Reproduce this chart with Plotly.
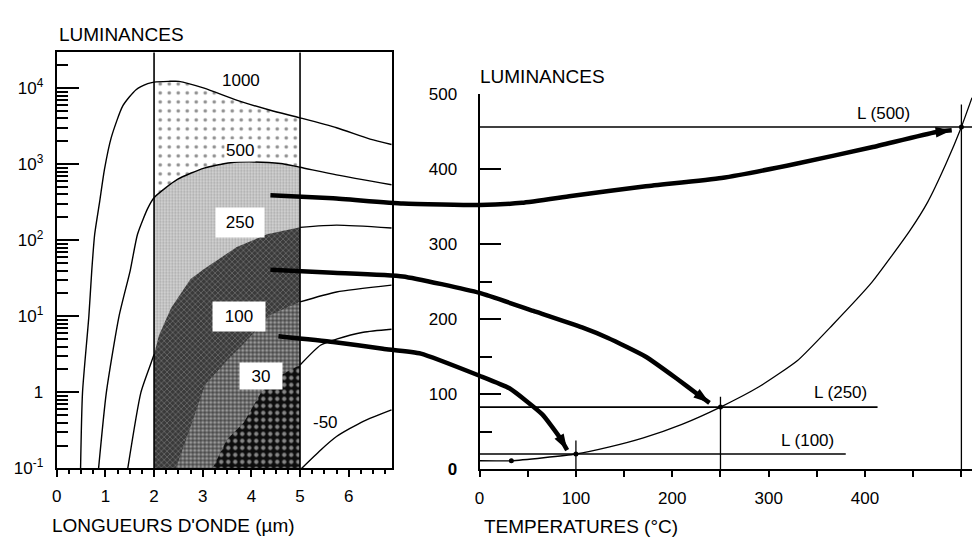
import plotly.graph_objects as go

W, H = 972, 546
FONT = "Liberation Sans, Arial, Helvetica, sans-serif"

# ---------------- Left panel : spectral luminance vs wavelength ----------------
wl_1000 = [0.49, 0.53, 0.66, 0.72, 0.78, 0.88, 0.98, 1.12, 1.36, 1.63, 1.87, 2.0, 2.3, 2.51,
           3.03, 3.71, 4.39, 5.0, 5.75, 6.44, 6.88]
lum_1000 = [0.1, 1, 10, 40, 120, 316, 851, 2239, 5888, 9550, 11480, 12020, 12300, 12300,
            10000, 6918, 5129, 4074, 3020, 2138, 1820]

wl_500 = [0.86, 1.02, 1.28, 1.51, 1.66, 1.87, 2.0, 2.48, 3.03, 3.57, 4.05, 4.6, 5.0, 5.75, 6.88]
lum_500 = [0.1, 1, 10, 40, 120, 263, 363, 631, 891, 1047, 1072, 1023, 912, 724, 537]

wl_250 = [1.46, 1.73, 1.94, 2.0, 2.1, 2.35, 2.75, 3.02, 3.7, 4.32, 5.0, 5.75, 6.88]
lum_250 = [0.1, 1, 2.45, 3.16, 5.6, 12.9, 30.9, 41.7, 81.3, 120, 148, 158, 145]

wl_100 = [2.45, 2.75, 3.05, 3.5, 3.84, 4.4, 5.0, 5.75, 6.88]
lum_100 = [0.1, 0.355, 1.26, 2.63, 4.37, 10.5, 15.5, 20.9, 25.7]

wl_30 = [3.2, 3.5, 3.84, 4.2, 4.52, 5.0, 5.42, 5.75, 6.3, 6.88]
lum_30 = [0.1, 0.24, 0.4, 1.0, 1.58, 2.29, 4.17, 5.01, 6.17, 6.76]

wl_m50 = [5.03, 5.42, 5.75, 6.3, 6.88]
lum_m50 = [0.1, 0.174, 0.263, 0.417, 0.589]

band = [2.0, 5.0]          # spectral band (µm)
wl_ticks = [0, 1, 2, 3, 4, 5, 6]
lum_ticks = [0.1, 1, 10, 100, 1000, 10000]
lum_ticktext = ["10<sup>-1</sup>", "1", "10<sup>1</sup>", "10<sup>2</sup>", "10<sup>3</sup>", "10<sup>4</sup>"]

# ---------------- Right panel : band luminance vs temperature ----------------
temp_T = [0, 33, 100, 135, 170, 210, 250, 290, 330, 366, 407, 446, 465, 484, 500, 511]
temp_L = [11.5, 11.5, 20.5, 30, 42, 60, 83, 110, 145, 192, 249, 317, 356, 407, 456, 495]

dot_T = [33, 100, 250, 500]
dot_L = [11.5, 20.5, 83, 456]

ref_T = [100, 250, 500]
ref_L = [20.5, 83, 456]
ref_end_T = [380, 413, 511]
ref_top_L = [38.6, 96.8, 486]
ref_labels = ["L (100)", "L (250)", "L (500)"]

T_ticks = [0, 100, 200, 300, 400, 500]
L_ticks = [0, 100, 200, 300, 400, 500]

# transfer arrows (in the temperature/luminance units of the right panel)
arrow1_T = [-217, -152, -79.5, 0, 44, 95, 172.5, 251, 328.5, 407, 473, 490]
arrow1_L = [365, 361, 354, 352, 355, 364, 377, 388, 407, 429, 449, 451.5]
arrow2_T = [-217, -152, -79.5, 0, 55.8, 106.4, 133.3, 172.5, 204.5, 227.3, 238.6]
arrow2_L = [266, 262, 257, 235, 211, 189, 175, 150, 121, 99, 88.6]
arrow3_T = [-208.7, -151.9, -100.2, -60.9, 0, 31, 65.1, 82.6, 90.9]
arrow3_L = [177.4, 169.7, 160.7, 154.2, 124.7, 108, 73.3, 43.7, 25.7]

# ---------------- geometry ----------------
xd_left = [52 / W, 389 / W]
yd_left = [(H - 476) / H, (H - 45) / H]
xd_right = [477 / W, 1.0]
yd_right = [(H - 477) / H, (H - 88) / H]
x2_range = [0, 511]
y2_range = [0, 500]


def full_range(rng, dom):
    span = (rng[1] - rng[0]) / (dom[1] - dom[0])
    return [rng[0] - dom[0] * span, rng[1] + (1 - dom[1]) * span]


x3_range = full_range(x2_range, xd_right)
y3_range = full_range(y2_range, yd_right)

fig = go.Figure()

# ---- patterned bands between x=2 and x=5 ----
patterns = [
    (wl_1000, lum_1000, dict(shape=".", fgcolor="#222222", bgcolor="#ffffff", size=9, solidity=0.13)),
    (wl_500, lum_500, dict(shape=".", fgcolor="#777777", bgcolor="#d8d8d8", size=3, solidity=0.45)),
    (wl_250, lum_250, dict(shape="x", fgcolor="#a0a0a0", bgcolor="#3a3a3a", size=4, solidity=0.35)),
    (wl_100, lum_100, dict(shape=".", fgcolor="#e6e6e6", bgcolor="#4a4a4a", size=4, solidity=0.5)),
    (wl_30, lum_30, dict(shape=".", fgcolor="#ffffff", bgcolor="#0d0d0d", size=7, solidity=0.3)),
]
for wl, lum, pat in patterns:
    pts = [(w, l) for w, l in zip(wl, lum) if band[0] <= w <= band[1]]
    xs = [p[0] for p in pts] + [band[1], pts[0][0]]
    ys = [p[1] for p in pts] + [lum_ticks[0], lum_ticks[0]]
    fig.add_trace(go.Scatter(x=xs, y=ys, mode="lines", line=dict(width=0), fill="toself",
                             fillcolor=pat["bgcolor"], fillpattern=pat,
                             xaxis="x", yaxis="y", hoverinfo="skip", showlegend=False))

# ---- curves ----
for wl, lum, full in [(wl_1000, lum_1000, True), (wl_500, lum_500, True), (wl_250, lum_250, False),
                      (wl_100, lum_100, False), (wl_30, lum_30, False), (wl_m50, lum_m50, True)]:
    if full:
        xs, ys = list(wl), list(lum)
    else:
        left = [(w, l) for w, l in zip(wl, lum) if w <= band[0]]
        right = [(w, l) for w, l in zip(wl, lum) if w >= band[1]]
        pts = (left + [(None, None)] + right) if left else right
        xs = [p[0] for p in pts]
        ys = [p[1] for p in pts]
    fig.add_trace(go.Scatter(x=xs, y=ys, mode="lines", line=dict(color="black", width=1.4, shape="spline", smoothing=0.6),
                             xaxis="x", yaxis="y", hoverinfo="skip", showlegend=False))

# ---- right panel ----
fig.add_trace(go.Scatter(x=temp_T, y=temp_L, mode="lines", line=dict(color="black", width=1.3, shape="spline", smoothing=0.5),
                         xaxis="x2", yaxis="y2", hoverinfo="skip", showlegend=False))
for t, l, te, lt in zip(ref_T, ref_L, ref_end_T, ref_top_L):
    fig.add_trace(go.Scatter(x=[0, te], y=[l, l], mode="lines", line=dict(color="black", width=1.6),
                             xaxis="x2", yaxis="y2", hoverinfo="skip", showlegend=False))
    fig.add_trace(go.Scatter(x=[t, t], y=[0, lt], mode="lines", line=dict(color="black", width=1.3),
                             xaxis="x2", yaxis="y2", hoverinfo="skip", showlegend=False))
fig.add_trace(go.Scatter(x=dot_T, y=dot_L, mode="markers", marker=dict(color="black", size=5),
                         xaxis="x2", yaxis="y2", hoverinfo="skip", showlegend=False))

# ---- arrows ----
for aT, aL in [(arrow1_T, arrow1_L), (arrow2_T, arrow2_L), (arrow3_T, arrow3_L)]:
    fig.add_trace(go.Scatter(x=aT, y=aL, mode="lines", line=dict(color="black", width=4.5, shape="spline", smoothing=0.45),
                             xaxis="x3", yaxis="y3", hoverinfo="skip", showlegend=False))
    fig.add_trace(go.Scatter(x=aT[-2:], y=aL[-2:], mode="markers",
                             marker=dict(symbol="arrow", angleref="previous", size=[0, 17], color="black",
                                         opacity=[0, 1], line=dict(width=0)),
                             xaxis="x3", yaxis="y3", hoverinfo="skip", showlegend=False))

# ---- shapes ----
shapes = []
for xv in band:
    shapes.append(dict(type="line", xref="x", yref="y domain", x0=xv, x1=xv, y0=0, y1=1,
                       line=dict(color="black", width=1.6)))
shapes.append(dict(type="line", xref="x domain", yref="y", x0=-0.015, x1=1, y0=0, y1=0,
                   line=dict(color="black", width=1.3)))

# ---- annotations ----
ann = []
def txt(x, y, s, xref="x", yref="y", size=17, **kw):
    d = dict(x=x, y=y, xref=xref, yref=yref, text=s, showarrow=False, font=dict(size=size, family=FONT, color="black"))
    d.update(kw)
    ann.append(d)

txt(3.78, 4.095, "1000")
txt(3.76, 3.175, "500", bgcolor="white")
txt(3.77, 2.236, "250", bgcolor="white", width=46, height=27)
txt(3.74, 1.0, "100", bgcolor="white", width=50, height=27)
txt(4.19, 0.218, "30", bgcolor="white", width=40, height=24)
txt(5.52, -0.395, "-50")

lab_pos = [(340, 38), (375, 102), (419, 474)]
for (xt, yt), s in zip(lab_pos, ref_labels):
    txt(xt, yt, s, xref="x2", yref="y2")

txt(52 / W, (H - 26) / H, "LUMINANCES", xref="paper", yref="paper", size=19, xanchor="left", yanchor="middle")
txt(475 / W, (H - 70) / H, "LUMINANCES", xref="paper", yref="paper", size=19, xanchor="left", yanchor="middle")
txt(45 / W, (H - 535) / H, "LONGUEURS D'ONDE (µm)", xref="paper", yref="paper", size=19, xanchor="left", yanchor="middle")
txt(479 / W, (H - 536) / H, "TEMPERATURES (°C)", xref="paper", yref="paper", size=19, xanchor="left", yanchor="middle")

minor_lum = [m * d for d in [0.1, 1, 10, 100, 1000, 10000] for m in range(2, 10) if m * d < 10 ** 4.47]

fig.update_layout(
    width=W, height=H, margin=dict(l=0, r=0, t=0, b=0),
    paper_bgcolor="white", plot_bgcolor="rgba(0,0,0,0)",
    font=dict(family=FONT, size=17, color="black"), showlegend=False,
    shapes=shapes, annotations=ann,
    xaxis=dict(domain=xd_left, range=[0, 6.89], anchor="y", tickvals=wl_ticks, ticks="outside", ticklen=7,
               tickwidth=1.6, tickcolor="black", showline=True, linewidth=2, linecolor="black", mirror=True,
               showgrid=False, zeroline=False, ticklabelstandoff=4,
               minor=dict(dtick=0.25, ticks="outside", ticklen=4, tickwidth=1.5, tickcolor="black", showgrid=False)),
    yaxis=dict(domain=yd_left, type="log", range=[-1, 4.47], anchor="x", tickvals=lum_ticks, ticktext=lum_ticktext,
               ticks="inside", ticklen=22, tickwidth=2, tickcolor="black", showline=True, linewidth=2, linecolor="black",
               mirror=True, showgrid=False, zeroline=False, ticklabelstandoff=8,
               minor=dict(tickvals=minor_lum, ticks="inside", ticklen=11, tickwidth=2, tickcolor="black", showgrid=False)),
    xaxis2=dict(domain=xd_right, range=x2_range, anchor="y2", tickvals=T_ticks, ticks="outside", ticklen=6,
                tickwidth=1.6, tickcolor="black", showline=True, linewidth=2, linecolor="black",
                showgrid=False, zeroline=False, ticklabelstandoff=6,
                minor=dict(tickvals=[50, 150, 250, 350, 450], ticks="outside", ticklen=6, tickwidth=1.6,
                           tickcolor="black", showgrid=False)),
    yaxis2=dict(domain=yd_right, range=y2_range, anchor="x2", tickvals=L_ticks,
                ticktext=["<b>0</b>"] + [str(v) for v in L_ticks[1:]],
                ticks="inside", ticklen=21, tickwidth=2, tickcolor="black", showline=True, linewidth=2,
                linecolor="black", showgrid=False, zeroline=False, ticklabelstandoff=17,
                minor=dict(tickvals=[50, 150, 250], ticks="inside", ticklen=12, tickwidth=2, tickcolor="black",
                           showgrid=False)),
    xaxis3=dict(domain=[0, 1], range=x3_range, visible=False, anchor="y3", fixedrange=True),
    yaxis3=dict(domain=[0, 1], range=y3_range, visible=False, anchor="x3", fixedrange=True),
)

fig.write_html("out.html")
